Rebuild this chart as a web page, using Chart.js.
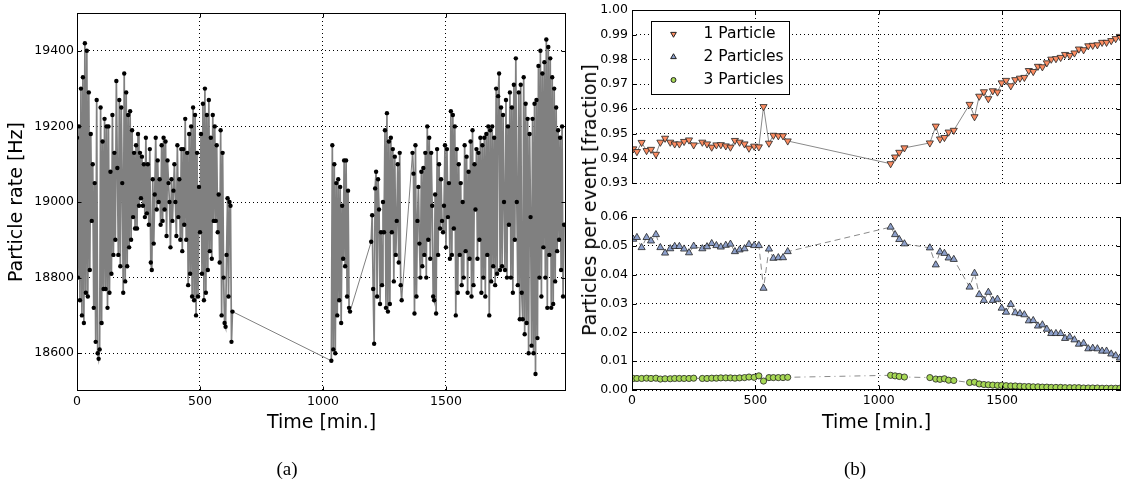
<!DOCTYPE html>
<html>
<head>
<meta charset="utf-8">
<title>Particle rate and particles per event</title>
<script src="https://cdn.jsdelivr.net/npm/chart.js@4.4.1/dist/chart.umd.min.js"></script>
<style>
  html, body { margin:0; padding:0; background:#fff; }
  .page { position:relative; width:1126px; height:482px; overflow:hidden; font-family:'DejaVu Sans', sans-serif; color:#000; }
  .page canvas { position:absolute; left:0; top:0; }
  .ylabel { position:absolute; left:589px; top:200px; transform:translate(-50%,-50%) rotate(-90deg); font-size:19px; white-space:nowrap; }
  .caption { position:absolute; top:469px; transform:translate(-50%,-50%); font-family:'Liberation Serif', serif; font-size:19px; }
</style>
</head>
<body>
<div class="page">
  <canvas id="rateChart" width="1126" height="482"></canvas>
  <canvas id="upperChart" width="1126" height="482"></canvas>
  <canvas id="lowerChart" width="1126" height="482"></canvas>
  <div class="ylabel">Particles per event [fraction]</div>
  <div class="caption" style="left:287px;">(a)</div>
  <div class="caption" style="left:855px;">(b)</div>
</div>

<script>
/* =========================================================
   Panel (a): particle rate, one sample every 4 min, four runs
   ========================================================= */
const rateStep = 4;
const rateRunStarts = [0, 1034, 1196, 1364];

const rateRun1 = [
  19170, 18800, 19200, 18740, 19300, 18700, 19330, 18680, 19420, 18760,
  19400, 18750, 19290, 18820, 19180, 18950, 19100, 18720, 19050, 18630,
  19270, 18600, 18585, 18610, 19250, 18680, 19160, 18770, 19220, 18770,
  19200, 18720, 19200, 18760, 19080, 18810, 19230, 18860, 19130, 18900,
  19320, 19090, 18860, 19270, 18830, 19250, 19050, 18760, 19340, 18790,
  19290, 18830, 19230, 18880, 19240, 18900, 19190, 18960, 19130, 18930,
  19150, 18930, 19180, 18990, 19130, 19010, 19120, 18990, 19100, 18960,
  19170, 18970, 19100, 18940, 19140, 18840, 18820, 19060, 18890, 19020,
  19170, 18980, 19110, 19000, 19060, 18940, 19150, 18950, 19170, 18980,
  19160, 18910, 19110, 19050, 19000, 18880, 19060, 18950, 19030, 19100,
  19000, 18910, 19150, 18960, 19060, 18900, 19140, 18870, 19140, 18940,
  19220, 18900, 19130, 18780, 19180, 18810, 19200, 18750, 19250, 18740,
  19230, 18700, 19130, 18750, 19040, 18920, 19180, 18810, 19260, 18740,
  19300, 18760, 19230, 18820, 19270, 18870, 19170, 18850, 19230, 18950,
  19200, 18950, 19150, 18920, 19020, 18840, 19190, 18700, 19130, 18800,
  18680, 18670, 18860, 19010, 18750, 19000, 18990, 18630, 18710
];
const rateRun2 = [
  18580, 19150, 18610, 19100, 18600, 19050, 18700, 19060, 18740, 19040,
  18680, 18990, 18850, 19110, 18830, 19110, 18750, 19030, 18720, 18710
];
const rateRun3 = [
  18895, 18965, 18770, 18625, 19036, 19080, 18750, 19060, 18980, 18730,
  18920, 18780, 19000, 18920, 19190, 18720, 19235, 18710, 19160, 18730,
  19170, 18920, 19140, 18790, 19120, 18860, 18950, 19100, 18840, 19130,
  18780, 18740
];
const rateRun4 = [
  19130, 19075, 18705, 19150, 18750, 18950, 19040, 18890, 18800, 19080,
  18830, 19090, 18860, 19130, 18800, 19200, 18900, 19170, 18850, 19130,
  18990, 18750, 18740, 19020, 18705, 19140, 18860, 19100, 18930, 19060,
  18950, 18920, 18990, 19150, 18880, 19140, 18960, 19050, 18850, 19240,
  18860, 19230, 18930, 19200, 18700, 19140, 18760, 19100, 18860, 19050,
  18780, 19000, 18800, 19150, 18870, 19120, 18760, 19080, 18850, 19160,
  18750, 19190, 18780, 19100, 18980, 19140, 18850, 19130, 18900, 19170,
  18760, 19150, 18800, 19170, 18750, 19180, 18860, 19200, 18700, 19190,
  18790, 19200, 18830, 19170, 18780, 19300, 18810, 19280, 19340, 18820,
  19250, 18830, 19230, 19000, 18820, 19270, 18800, 19200, 18940, 19290,
  18800, 19250, 18760, 19310, 18900, 19380, 19000, 18780, 19290, 18690,
  19310, 18760, 18690, 19330, 18650, 19260, 18680, 19220, 18600, 19180,
  18960, 18620, 19220, 18600, 19260, 18545, 19270, 18640, 19360, 18800,
  19400, 18750, 19340, 18880, 19370, 18800, 19430, 18720, 19410, 18860,
  19380, 18720, 19330, 18730, 19300, 18790, 19250, 18870, 19190, 18900,
  19170, 18820, 19200, 18750, 18940
];

const rateTicks = [18600, 18800, 19000, 19200, 19400];
const timeTicks = [0, 500, 1000, 1500];

/* =========================================================
   Panel (b): fraction of events with 1, 2, 3 particles
   ========================================================= */
const binTimes = [
  5, 20, 39, 59, 77, 97, 115, 134, 155, 173, 192, 211, 231, 250,
  285, 304, 323, 342, 360, 380, 399, 417, 436, 456, 474, 495, 514,
  533, 555, 573, 593, 612, 631,
  1048, 1066, 1083, 1104,
  1207, 1231, 1248, 1266, 1283, 1304,
  1368, 1388, 1407, 1426, 1444, 1462, 1481, 1498, 1516, 1535, 1553, 1572,
  1590, 1608, 1626, 1645, 1663, 1681, 1699, 1718, 1737, 1755, 1774, 1793,
  1811, 1830, 1849, 1867, 1886, 1905, 1923, 1942, 1960, 1977
];
const oneParticle = [
  0.9438, 0.9427, 0.9464, 0.9431, 0.9436, 0.9416, 0.9465, 0.9481, 0.9465, 0.9458, 0.9458, 0.9468, 0.9474, 0.9454,
  0.9465, 0.9458, 0.9445, 0.9454, 0.9455, 0.9450, 0.9445, 0.9472, 0.9465, 0.9458, 0.9441, 0.9449, 0.9446,
  0.9609, 0.9461, 0.9493, 0.9491, 0.9491, 0.9470,
  0.9378, 0.9405, 0.9424, 0.9442,
  0.9462, 0.9530, 0.9478, 0.9484, 0.9506, 0.9513,
  0.9618, 0.9568, 0.9651, 0.9669, 0.9641, 0.9673, 0.9668, 0.9705, 0.9715, 0.9693, 0.9718, 0.9724,
  0.9727, 0.9755, 0.9751, 0.9772, 0.9770, 0.9786, 0.9801, 0.9803, 0.9808, 0.9820, 0.9816, 0.9826,
  0.9842, 0.9839, 0.9855, 0.9857, 0.9859, 0.9869, 0.9869, 0.9876, 0.9884, 0.9893
];
const twoParticles = [
  0.0523, 0.0529, 0.0494, 0.0529, 0.0517, 0.0539, 0.0494, 0.0475, 0.0490, 0.0498, 0.0498, 0.0489, 0.0476, 0.0499,
  0.0490, 0.0497, 0.0508, 0.0501, 0.0496, 0.0502, 0.0506, 0.0480, 0.0486, 0.0490, 0.0505, 0.0501, 0.0501,
  0.0353, 0.0489, 0.0457, 0.0459, 0.0459, 0.0480,
  0.0565, 0.0539, 0.0522, 0.0507,
  0.0493, 0.0434, 0.0479, 0.0474, 0.0458, 0.0453,
  0.0357, 0.0405, 0.0331, 0.0311, 0.0339, 0.0311, 0.0315, 0.0284, 0.0270, 0.0297, 0.0268, 0.0265,
  0.0261, 0.0240, 0.0241, 0.0222, 0.0226, 0.0211, 0.0196, 0.0196, 0.0196, 0.0179, 0.0184, 0.0174,
  0.0159, 0.0162, 0.0143, 0.0145, 0.0143, 0.0135, 0.0135, 0.0125, 0.0119, 0.0111
];
const threeParticles = [
  0.0040, 0.0040, 0.0040, 0.0041, 0.0040, 0.0041, 0.0038, 0.0039, 0.0039, 0.0040, 0.0040, 0.0040, 0.0040, 0.0041,
  0.0040, 0.0040, 0.0041, 0.0041, 0.0042, 0.0042, 0.0042, 0.0041, 0.0042, 0.0043, 0.0045, 0.0044, 0.0049,
  0.0031, 0.0043, 0.0043, 0.0043, 0.0043, 0.0044,
  0.0051, 0.0049, 0.0047, 0.0045,
  0.0043, 0.0038, 0.0037, 0.0039, 0.0034, 0.0033,
  0.0026, 0.0027, 0.0021, 0.0019, 0.0018, 0.0017, 0.0016, 0.0016, 0.0015, 0.0014, 0.0014, 0.0013,
  0.0012, 0.0012, 0.0011, 0.0011, 0.0010, 0.0010, 0.0009, 0.0009, 0.0009, 0.0008, 0.0008, 0.0008,
  0.0008, 0.0007, 0.0007, 0.0007, 0.0007, 0.0006, 0.0006, 0.0006, 0.0006, 0.0006
];
const seriesNames = ['1 Particle', '2 Particles', '3 Particles'];
const upperTicks = [0.93, 0.94, 0.95, 0.96, 0.97, 0.98, 0.99, 1.00];
const lowerTicks = [0.00, 0.01, 0.02, 0.03, 0.04, 0.05, 0.06];

/* ---------- Shared look ---------- */
const FONT = 'DejaVu Sans';
const LINE_GREY = '#8a8a8a';
const SERIES_STYLE = [
  { fill:'#fc8d62', pointStyle:'triangle', rotation:180, radius:4.1, dash:[] },
  { fill:'#8da0cb', pointStyle:'triangle', rotation:0,   radius:4.1, dash:[6, 4] },
  { fill:'#a6d854', pointStyle:'circle',   rotation:0,   radius:3.1, dash:[6, 4, 1, 4] }
];

// force an axis to a fixed thickness so the plot areas land where the figure has them
const fixAxis = (size) => (scale) => {
  if (scale.isHorizontal()) scale.height = size; else scale.width = size;
  scale.paddingTop = scale.paddingBottom = scale.paddingLeft = scale.paddingRight = 0;
};
const useTicks = (values) => (scale) => { scale.ticks = values.map(v => ({ value: v })); };

const gridOpts = { color:'#000', lineWidth:1, drawTicks:false };
const dotted = { display:false, dash:[1, 3] };
const tickFont = { family:FONT, size:12.5 };

/* ---------- Spines + inward ticks, matplotlib style ---------- */
const framePlugin = {
  id: 'frame',
  afterDraw(chart, args, opts) {
    const { ctx, chartArea: a, scales } = chart;
    const L = Math.round(a.left) + 0.5, R = Math.round(a.right) - 0.5;
    const T = Math.round(a.top) + 0.5, B = Math.round(a.bottom) - 0.5;
    const len = 4;
    ctx.save();
    ctx.strokeStyle = '#000';
    ctx.lineWidth = 1;
    ctx.beginPath();
    ctx.moveTo(L, T - 0.5); ctx.lineTo(L, B + 0.5);
    ctx.moveTo(R, T - 0.5); ctx.lineTo(R, B + 0.5);
    if (opts.top)    { ctx.moveTo(L, T); ctx.lineTo(R, T); }
    if (opts.bottom) { ctx.moveTo(L, B); ctx.lineTo(R, B); }
    scales.x.ticks.forEach(t => {
      const px = Math.round(scales.x.getPixelForValue(t.value)) + 0.5;
      if (opts.top)    { ctx.moveTo(px, T); ctx.lineTo(px, T + len); }
      if (opts.bottom) { ctx.moveTo(px, B); ctx.lineTo(px, B - len); }
    });
    scales.y.ticks.forEach(t => {
      const py = Math.round(scales.y.getPixelForValue(t.value)) + 0.5;
      ctx.moveTo(L, py); ctx.lineTo(L + len, py);
      ctx.moveTo(R, py); ctx.lineTo(R - len, py);
    });
    ctx.stroke();
    ctx.restore();
  }
};

/* ---------- Boxed legend inside panel (b) ---------- */
const boxLegendPlugin = {
  id: 'boxLegend',
  afterDraw(chart, args, opts) {
    const { ctx, chartArea: a } = chart;
    const x = Math.round(a.left + opts.dx) + 0.5, y = Math.round(a.top + opts.dy) + 0.5;
    ctx.save();
    ctx.fillStyle = '#fff';
    ctx.strokeStyle = '#000';
    ctx.lineWidth = 1;
    ctx.fillRect(x, y, opts.width, opts.height);
    ctx.strokeRect(x, y, opts.width, opts.height);
    ctx.font = '15.5px "' + FONT + '"';
    ctx.textBaseline = 'middle';
    ctx.textAlign = 'left';
    seriesNames.forEach((name, i) => {
      const s = SERIES_STYLE[i];
      const rowY = y + opts.firstRow + i * opts.rowGap;
      ctx.fillStyle = s.fill;
      ctx.strokeStyle = '#222';
      Chart.helpers.drawPoint(ctx, { pointStyle:s.pointStyle, rotation:s.rotation, radius:s.radius * 0.8, borderWidth:0.8 }, x + 22, rowY);
      ctx.fillStyle = '#000';
      ctx.fillText(name, x + 52, rowY);
    });
    ctx.restore();
  }
};

const baseOptions = {
  responsive:false,
  animation:false,
  events:[],
  plugins:{ legend:{ display:false }, tooltip:{ enabled:false } }
};

/* ---------- Panel (a) ---------- */
const ratePoints = [];
[rateRun1, rateRun2, rateRun3, rateRun4].forEach((run, r) => {
  run.forEach((v, i) => ratePoints.push({ x: rateRunStarts[r] + i * rateStep, y: v }));
});

new Chart(document.getElementById('rateChart'), {
  type:'scatter',
  data:{
    datasets:[{
      data: ratePoints,
      showLine:true,
      borderColor:'#808080',
      borderWidth:1.7,
      // thin joins across the pauses between runs
      segment:{ borderWidth: c => (c.p1.parsed.x - c.p0.parsed.x > rateStep ? 1 : 1.7) },
      pointRadius:2.2,
      pointBackgroundColor:'#000',
      pointBorderWidth:0
    }]
  },
  options:{
    ...baseOptions,
    layout:{ padding:{ left:0, top:13, right:560, bottom:0 } },
    plugins:{ ...baseOptions.plugins, frame:{ top:true, bottom:true } },
    scales:{
      x:{
        type:'linear', min:0, max:1988,
        afterBuildTicks: useTicks(timeTicks),
        afterFit: fixAxis(91),
        grid: gridOpts, border: dotted,
        ticks:{ color:'#000', font:tickFont, padding:3, maxRotation:0, autoSkip:false, callback: v => String(v) },
        title:{ display:true, text:'Time [min.]', color:'#000', font:{ family:FONT, size:19, lineHeight:1.2 }, padding:{ top:0, bottom:47.6 } }
      },
      y:{
        type:'linear', min:18500, max:19500,
        afterBuildTicks: useTicks(rateTicks),
        afterFit: fixAxis(77),
        grid: gridOpts, border: dotted,
        ticks:{ color:'#000', font:tickFont, padding:3, autoSkip:false, callback: v => String(v) },
        title:{ display:true, text:'Particle rate [Hz]', color:'#000', font:{ family:FONT, size:19, lineHeight:1.2 }, padding:{ top:6, bottom:0 } }
      }
    }
  },
  plugins:[framePlugin]
});

/* ---------- Panel (b) ---------- */
function seriesDataset(values, i){
  const s = SERIES_STYLE[i];
  return {
    data: values.map((v, k) => ({ x: binTimes[k], y: v })),
    showLine:true,
    borderColor:LINE_GREY,
    borderWidth:1,
    borderDash:s.dash,
    pointStyle:s.pointStyle,
    pointRotation:s.rotation,
    pointRadius:s.radius,
    pointBackgroundColor:s.fill,
    pointBorderColor:'#222',
    pointBorderWidth:0.8
  };
}

function panelBScales(yMin, yMax, yTicks, showTime, xHeight){
  return {
    x:{
      type:'linear', min:0, max:1982,
      afterBuildTicks: useTicks(timeTicks),
      afterFit: fixAxis(xHeight),
      grid: gridOpts, border: dotted,
      ticks:{ display:showTime, color:'#000', font:tickFont, padding:3, maxRotation:0, autoSkip:false, callback: v => String(v) },
      title:{ display:showTime, text:'Time [min.]', color:'#000', font:{ family:FONT, size:19, lineHeight:1.2 }, padding:{ top:0, bottom:47.6 } }
    },
    y:{
      type:'linear', min:yMin, max:yMax,
      afterBuildTicks: useTicks(yTicks),
      afterFit: fixAxis(632),
      grid: gridOpts, border: dotted,
      ticks:{ color:'#000', font:tickFont, padding:4, autoSkip:false, callback: v => v.toFixed(2) }
    }
  };
}

// upper part of the broken axis: single-particle fraction + legend
new Chart(document.getElementById('upperChart'), {
  type:'scatter',
  data:{ datasets:[ seriesDataset(oneParticle, 0) ] },
  options:{
    ...baseOptions,
    layout:{ padding:{ left:0, top:10, right:3, bottom:0 } },
    plugins:{
      ...baseOptions.plugins,
      frame:{ top:true, bottom:false },
      boxLegend:{ dx:19, dy:11, width:138, height:73, firstRow:12.5, rowGap:23 }
    },
    scales: panelBScales(0.93, 1.00, upperTicks, false, 299)
  },
  plugins:[framePlugin, boxLegendPlugin]
});

// lower part of the broken axis: two- and three-particle fractions
new Chart(document.getElementById('lowerChart'), {
  type:'scatter',
  data:{ datasets:[ seriesDataset(twoParticles, 1), seriesDataset(threeParticles, 2) ] },
  options:{
    ...baseOptions,
    layout:{ padding:{ left:0, top:217, right:3, bottom:0 } },
    plugins:{ ...baseOptions.plugins, frame:{ top:false, bottom:true } },
    scales: panelBScales(0.00, 0.06, lowerTicks, true, 92)
  },
  plugins:[framePlugin]
});
</script>
</body>
</html>
